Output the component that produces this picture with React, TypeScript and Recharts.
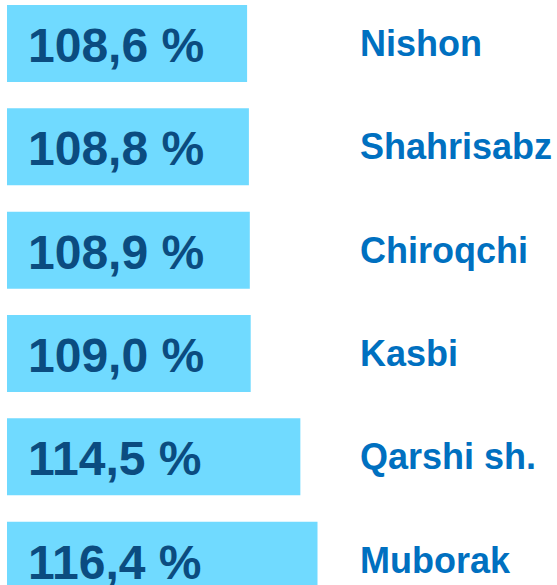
import React from 'react';
import { BarChart, Bar, XAxis, YAxis, LabelList } from 'recharts';

const districts = ['Nishon', 'Shahrisabz', 'Chiroqchi', 'Kasbi', 'Qarshi sh.', 'Muborak'];
const growth = [108.6, 108.8, 108.9, 109.0, 114.5, 116.4];

const data = districts.map((name, i) => ({ name, value: growth[i] }));

const FONT = "Arial, 'Liberation Sans', sans-serif";

const ValueLabel = (props: any) => {
  const { x, y, height, value } = props;
  return (
    <text
      x={x + 21}
      y={y + height / 2 + 2}
      dominantBaseline="central"
      fontFamily={FONT}
      fontWeight="bold"
      fontSize={48}
      fill="#0B4C80"
    >
      {Number(value).toFixed(1).replace('.', ',')} %
    </text>
  );
};

const NameLabel = (props: any) => {
  const { y, height, value } = props;
  return (
    <text
      x={360}
      y={y + height / 2}
      dominantBaseline="central"
      fontFamily={FONT}
      fontWeight="bold"
      fontSize={36}
      fill="#0070C0"
    >
      {value}
    </text>
  );
};

export default function App() {
  return (
    <div style={{ position: 'absolute', left: 0, top: -8, width: 557, height: 593, overflow: 'hidden', background: '#fff' }}>
      <BarChart
        width={557}
        height={620}
        data={data}
        layout="vertical"
        margin={{ top: 0, right: 207, bottom: 0, left: 7 }}
        barCategoryGap={0}
      >
        <XAxis type="number" domain={[82, 120]} hide />
        <YAxis type="category" dataKey="name" hide />
        <Bar dataKey="value" fill="#70DAFF" barSize={77} isAnimationActive={false}>
          <LabelList dataKey="value" content={ValueLabel} />
          <LabelList dataKey="name" content={NameLabel} />
        </Bar>
      </BarChart>
    </div>
  );
}
